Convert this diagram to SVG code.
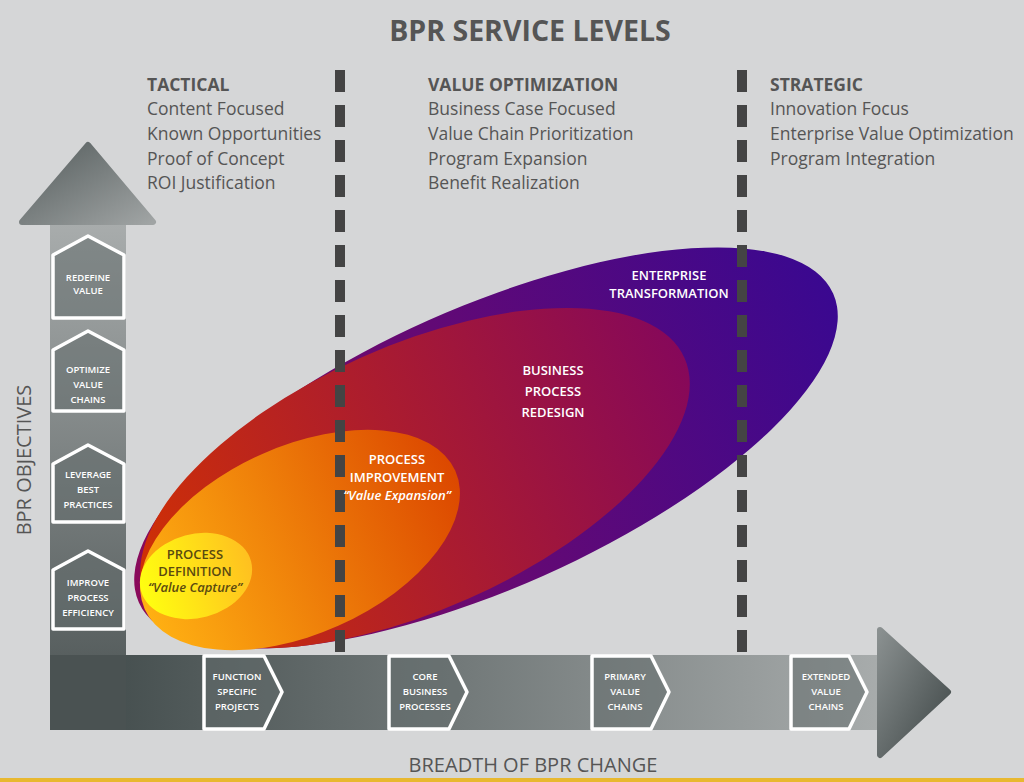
<svg xmlns="http://www.w3.org/2000/svg" width="1024" height="782" viewBox="0 0 1024 782">
<defs>
<linearGradient id="gP" x1="0" y1="0" x2="1" y2="0"><stop offset="0" stop-color="#8a0a5a"/><stop offset="1" stop-color="#3a0890"/></linearGradient>
<linearGradient id="gR" x1="0" y1="0" x2="1" y2="0"><stop offset="0" stop-color="#d03004"/><stop offset="1" stop-color="#86085a"/></linearGradient>
<linearGradient id="gO" x1="0" y1="0" x2="1" y2="0"><stop offset="0" stop-color="#ffb012"/><stop offset="1" stop-color="#dc4800"/></linearGradient>
<linearGradient id="gY" x1="0" y1="0" x2="1" y2="0"><stop offset="0" stop-color="#ffff10"/><stop offset="1" stop-color="#ffc020"/></linearGradient>
<linearGradient id="gV" x1="0" y1="1" x2="0" y2="0"><stop offset="0" stop-color="#4a5252"/><stop offset="1" stop-color="#a8acac"/></linearGradient>
<linearGradient id="gH" x1="0" y1="0" x2="1" y2="0"><stop offset="0" stop-color="#3e4848"/><stop offset="1" stop-color="#a8acac"/></linearGradient>
<linearGradient id="gHead" x1="0" y1="0" x2="1" y2="1"><stop offset="0" stop-color="#555d5d"/><stop offset="1" stop-color="#a0a4a4"/></linearGradient>
<linearGradient id="gHead2" x1="0" y1="0" x2="1" y2="1"><stop offset="0" stop-color="#8a9090"/><stop offset="1" stop-color="#3e4646"/></linearGradient>
</defs>
<style>
.t{font-family:"Open Sans","Liberation Sans",sans-serif;fill:#555}
.h{font-weight:bold;font-size:17.5px}
.l{font-size:17.5px}
.badge{fill:#636b6b;fill-opacity:0.55;stroke:#fff;stroke-width:3.5;stroke-linejoin:round}
.bt{font-family:"Open Sans","Liberation Sans",sans-serif;font-size:9.5px;font-weight:600;fill:#fff;text-anchor:middle}
.et{font-family:"Open Sans","Liberation Sans",sans-serif;font-size:13px;font-weight:600;fill:#fff;text-anchor:middle}
.dash{stroke:#444;stroke-width:10;stroke-dasharray:22 13}
</style>
<rect width="1024" height="782" fill="#d5d6d7"/>
<rect y="778" width="1024" height="4" fill="#e8b830"/>
<text class="t" x="530" y="41" text-anchor="middle" font-size="28.5" font-weight="bold">BPR SERVICE LEVELS</text>
<g id="tactical"><text class="t h" x="147" y="91">TACTICAL</text>
<text class="t l" x="147" y="115">Content Focused</text><text class="t l" x="147" y="140">Known Opportunities</text><text class="t l" x="147" y="165">Proof of Concept</text><text class="t l" x="147" y="189">ROI Justification</text></g>
<g id="valueopt"><text class="t h" x="428" y="91">VALUE OPTIMIZATION</text>
<text class="t l" x="428" y="115">Business Case Focused</text><text class="t l" x="428" y="140">Value Chain Prioritization</text><text class="t l" x="428" y="165">Program Expansion</text><text class="t l" x="428" y="189">Benefit Realization</text></g>
<g id="strategic"><text class="t h" x="770" y="91">STRATEGIC</text>
<text class="t l" x="770" y="115">Innovation Focus</text><text class="t l" x="770" y="140">Enterprise Value Optimization</text><text class="t l" x="770" y="165">Program Integration</text></g>
<g id="axes">
<rect x="50" y="225" width="76" height="505" fill="url(#gV)"/>
<polygon points="88,145 153,222 22,222" fill="url(#gHead)" stroke="url(#gHead)" stroke-width="6" stroke-linejoin="round"/>
<rect x="50" y="655" width="832" height="75" fill="url(#gH)"/>
<polygon points="880,630 948,692 880,755" fill="url(#gHead2)" stroke="url(#gHead2)" stroke-width="6" stroke-linejoin="round"/>
<rect x="50" y="655" width="76" height="75" fill="#4a5252"/>
</g>
<text class="t" font-size="20" text-anchor="middle" transform="translate(31,460) rotate(-90)">BPR OBJECTIVES</text>
<text class="t" font-size="20" x="533" y="772" text-anchor="middle">BREADTH OF BPR CHANGE</text>
<g id="ellipses">
<ellipse cx="486" cy="448" rx="380" ry="140" transform="rotate(-24 486 448)" fill="url(#gP)"/>
<ellipse cx="415" cy="478" rx="295" ry="132" transform="rotate(-24 415 478)" fill="url(#gR)"/>
<ellipse cx="300" cy="540" rx="170" ry="94" transform="rotate(-24 300 540)" fill="url(#gO)"/>
<ellipse cx="196" cy="576" rx="57" ry="42" transform="rotate(-15 196 576)" fill="url(#gY)"/>
</g>
<g id="connectors">
<line class="dash" x1="340" y1="70" x2="340" y2="660"/>
<line class="dash" x1="742" y1="70" x2="742" y2="660"/>
</g>
<g id="n-ent"><text class="et" font-size="12.5" x="669" y="280">ENTERPRISE</text><text class="et" font-size="12.5" x="669" y="298">TRANSFORMATION</text></g>
<g id="n-bpr"><text class="et" font-size="15" x="553" y="375">BUSINESS</text><text class="et" font-size="15" x="553" y="396">PROCESS</text><text class="et" font-size="15" x="553" y="417">REDESIGN</text></g>
<g id="n-pi"><text class="et" x="397" y="464">PROCESS</text><text class="et" x="397" y="482">IMPROVEMENT</text><text class="et" x="397" y="500" font-style="italic">“Value Expansion”</text></g>
<g id="n-pd"><text class="et" x="195" y="559" style="fill:#5a4a10" font-size="11.5">PROCESS</text><text class="et" x="195" y="576" style="fill:#5a4a10" font-size="11.5">DEFINITION</text><text class="et" x="195" y="592" style="fill:#5a4a10" font-size="11.5" font-style="italic">“Value Capture”</text></g>
<g id="b-redefine"><path class="badge" d="M53,255 L88,236 L124,255 L124,318 L53,318 Z"/><text class="bt" x="88" y="281">REDEFINE</text><text class="bt" x="88" y="294">VALUE</text></g>
<g id="b-optimize"><path class="badge" d="M53,350 L88,331 L124,350 L124,411 L53,411 Z"/><text class="bt" x="88" y="373">OPTIMIZE</text><text class="bt" x="88" y="388">VALUE</text><text class="bt" x="88" y="403">CHAINS</text></g>
<g id="b-leverage"><path class="badge" d="M53,464 L88,445 L124,464 L124,522 L53,522 Z"/><text class="bt" x="88" y="478">LEVERAGE</text><text class="bt" x="88" y="493">BEST</text><text class="bt" x="88" y="508">PRACTICES</text></g>
<g id="b-improve"><path class="badge" d="M53,570 L88,551 L124,570 L124,629 L53,629 Z"/><text class="bt" x="88" y="586">IMPROVE</text><text class="bt" x="88" y="601">PROCESS</text><text class="bt" x="88" y="616">EFFICIENCY</text></g>
<g id="b-function"><path class="badge" d="M204,656 L264,656 L282,692 L264,729 L204,729 Z"/><text class="bt" x="237" y="680">FUNCTION</text><text class="bt" x="237" y="695">SPECIFIC</text><text class="bt" x="237" y="710">PROJECTS</text></g>
<g id="b-core"><path class="badge" d="M389,656 L449,656 L467,692 L449,729 L389,729 Z"/><text class="bt" x="425" y="680">CORE</text><text class="bt" x="425" y="695">BUSINESS</text><text class="bt" x="425" y="710">PROCESSES</text></g>
<g id="b-primary"><path class="badge" d="M592,656 L651,656 L669,692 L651,729 L592,729 Z"/><text class="bt" x="625" y="680">PRIMARY</text><text class="bt" x="625" y="695">VALUE</text><text class="bt" x="625" y="710">CHAINS</text></g>
<g id="b-extended"><path class="badge" d="M791,656 L849,656 L867,692 L849,729 L791,729 Z"/><text class="bt" x="826" y="680">EXTENDED</text><text class="bt" x="826" y="695">VALUE</text><text class="bt" x="826" y="710">CHAINS</text></g>
</svg>
